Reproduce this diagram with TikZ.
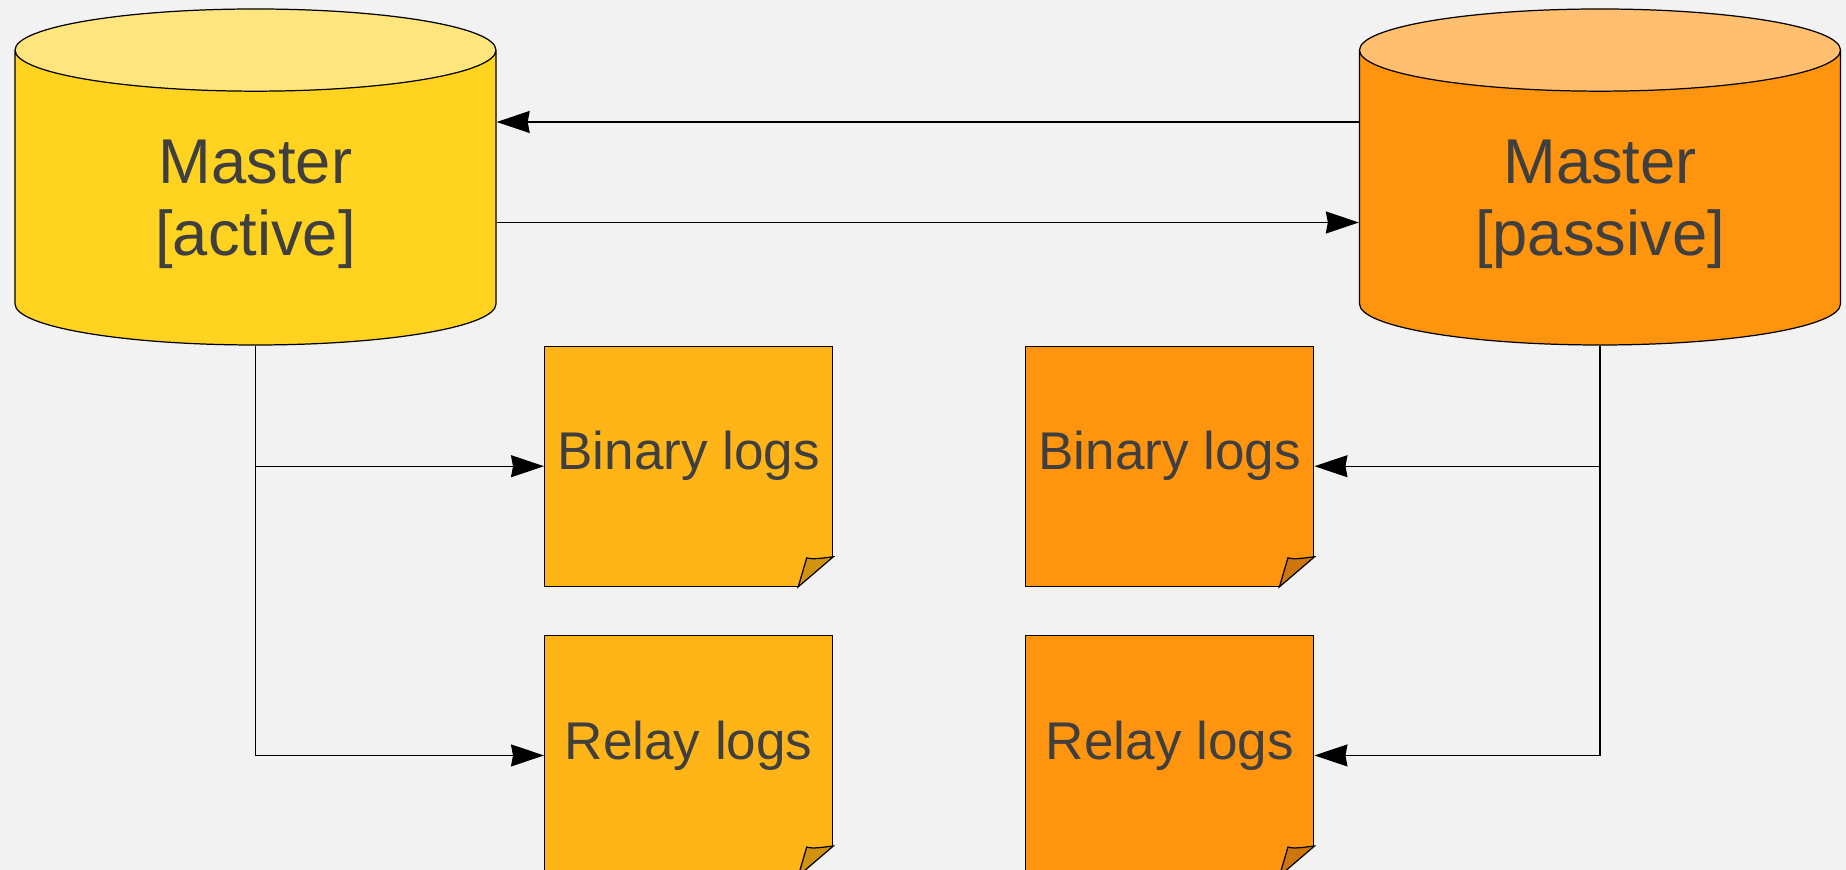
\documentclass[tikz,border=0pt]{standalone}
\usepackage{fontspec}
\setmainfont{Liberation Sans}
\usetikzlibrary{positioning,shapes.geometric,arrows.meta}

\definecolor{bggray}{HTML}{F2F2F2}
\definecolor{txtgray}{HTML}{3F3F3F}
\definecolor{actbody}{HTML}{FFD320}
\definecolor{acttop}{HTML}{FFE57E}
\definecolor{pasbody}{HTML}{FF950E}
\definecolor{pastop}{HTML}{FFBF6E}
\definecolor{logleft}{HTML}{FFB418}
\definecolor{foldleft}{HTML}{D1930F}
\definecolor{foldright}{HTML}{CC760C}

% folded corner at the bottom right of a log sheet
\newcommand\dogear[2]{%
	\fill[bggray] ([xshift=-0.35cm]#1.south east) -- ([xshift=0.02cm,yshift=-0.02cm]#1.south east) -- ([yshift=0.30cm]#1.south east) -- cycle;
	\filldraw[fill=#2, line width=0.35pt] ([xshift=-0.35cm]#1.south east) -- ([xshift=-0.265cm,yshift=0.29cm]#1.south east)
		.. controls ([xshift=-0.2cm,yshift=0.27cm]#1.south east) and ([xshift=-0.1cm,yshift=0.29cm]#1.south east) .. ([yshift=0.30cm]#1.south east) -- cycle;
}

\begin{document}
\begin{tikzpicture}[
		db/.style={cylinder, shape border rotate=90, draw, line width=0.35pt, aspect=0.29, minimum width=4.81cm, minimum height=3.36cm, cylinder uses custom fill, text=txtgray, text width=2.6cm, align=center, font=\fontsize{18}{20.5}\selectfont},
		logbox/.style={draw, line width=0.35pt, minimum width=2.88cm, minimum height=2.40cm, text=txtgray, text depth=0.31cm, font=\fontsize{15.1}{18}\selectfont},
		link/.style={line width=0.35pt, -{Stealth[length=0.33cm,width=0.22cm,inset=0.02cm]}}]
		\fill[bggray] (0,0) rectangle (18.46,-8.70);
		\useasboundingbox (0,0) rectangle (18.46,-8.70);
		
		\node[db, cylinder body fill=actbody, cylinder end fill=acttop, anchor=shape center] (act) at (2.555,-1.77) {Master\\{}[active]};
		\node[db, cylinder body fill=pasbody, cylinder end fill=pastop, anchor=shape center] (pas) at (16.0,-1.77) {Master\\{}[passive]};
		
		\node[logbox, fill=logleft, anchor=north west, shift={(2.885,0)}] (bin1) at (act.south) {Binary logs};
		\node[logbox, fill=logleft, anchor=north, shift={(0,-0.48)}] (rel1) at (bin1.south) {Relay logs};
		\node[logbox, fill=pasbody, anchor=west, shift={(1.92,0)}] (bin2) at (bin1.east) {Binary logs};
		\node[logbox, fill=pasbody, anchor=west, shift={(1.92,0)}] (rel2) at (rel1.east) {Relay logs};
		\dogear{bin1}{foldleft}
		\dogear{rel1}{foldleft}
		\dogear{bin2}{foldright}
		\dogear{rel2}{foldright}
		
		\draw[link] ([yshift=0.55cm]pas.shape center -| pas.west) -- ([yshift=0.55cm]act.shape center -| act.east);
		\draw[link] ([yshift=-0.455cm]act.shape center -| act.east) -- ([yshift=-0.455cm]pas.shape center -| pas.west);
		
		\draw[link] (act.south) |- (bin1.west);
		\draw[link] (act.south) |- (rel1.west);
		\draw[link] (pas.south) |- (bin2.east);
		\draw[link] (pas.south) |- (rel2.east);
	\end{tikzpicture}
\end{document}
